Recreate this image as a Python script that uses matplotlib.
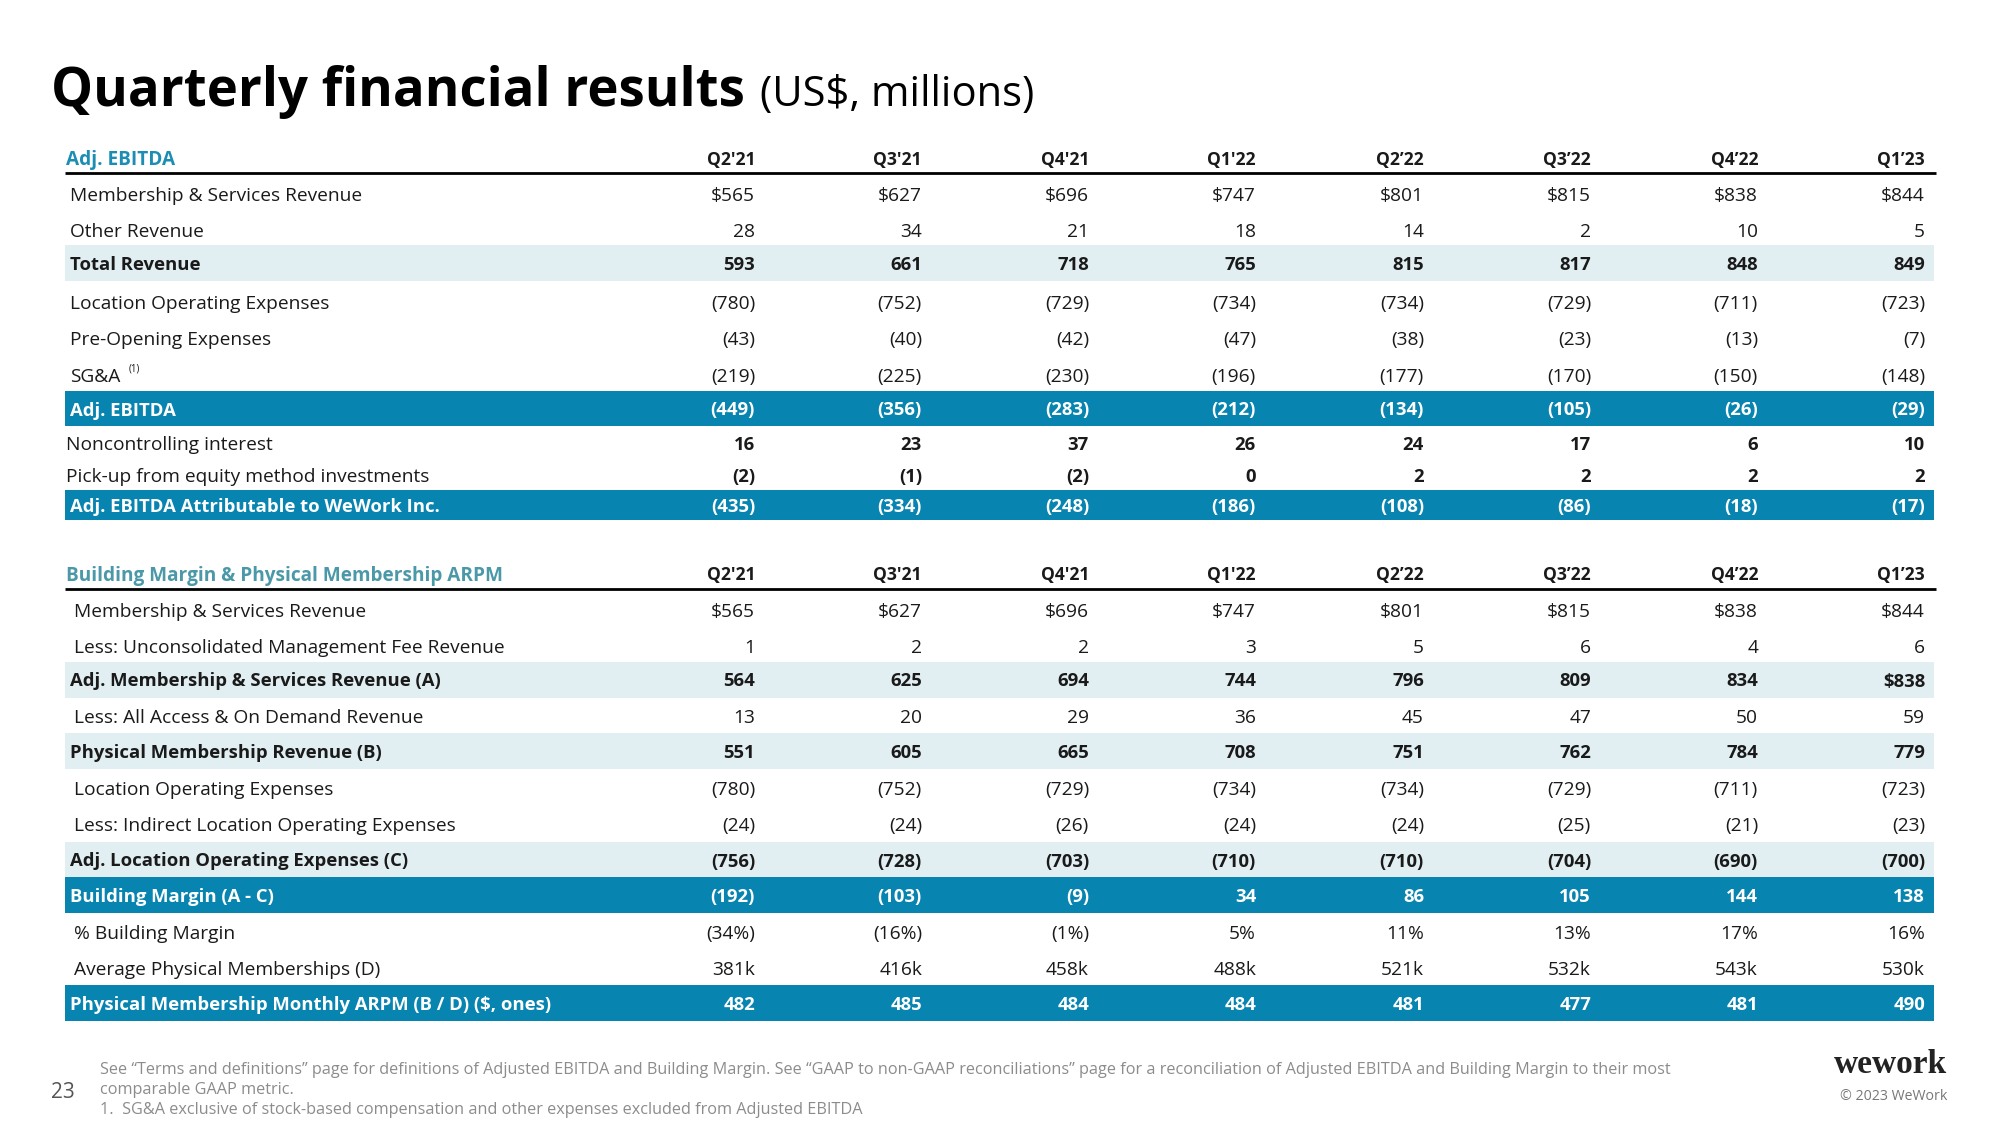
import matplotlib
matplotlib.use("Agg")
import matplotlib.pyplot as plt
from matplotlib.patches import Rectangle

plt.rcParams['font.family'] = ['Open Sans', 'DejaVu Sans']

## column headers
quarters = ["Q2'21", "Q3'21", "Q4'21", "Q1'22", "Q2\u201922", "Q3\u201922", "Q4\u201922", "Q1\u201923"]

## Adj. EBITDA table
membership_rev = ["$565", "$627", "$696", "$747", "$801", "$815", "$838", "$844"]
other_rev = ["28", "34", "21", "18", "14", "2", "10", "5"]
total_rev = ["593", "661", "718", "765", "815", "817", "848", "849"]
location_opex = ["(780)", "(752)", "(729)", "(734)", "(734)", "(729)", "(711)", "(723)"]
pre_opening = ["(43)", "(40)", "(42)", "(47)", "(38)", "(23)", "(13)", "(7)"]
sga = ["(219)", "(225)", "(230)", "(196)", "(177)", "(170)", "(150)", "(148)"]
adj_ebitda = ["(449)", "(356)", "(283)", "(212)", "(134)", "(105)", "(26)", "(29)"]
noncontrolling = ["16", "23", "37", "26", "24", "17", "6", "10"]
pickup_equity = ["(2)", "(1)", "(2)", "0", "2", "2", "2", "2"]
adj_ebitda_wework = ["(435)", "(334)", "(248)", "(186)", "(108)", "(86)", "(18)", "(17)"]

## Building margin table
unconsolidated_fee = ["1", "2", "2", "3", "5", "6", "4", "6"]
adj_membership_rev = ["564", "625", "694", "744", "796", "809", "834", "$838"]
all_access_rev = ["13", "20", "29", "36", "45", "47", "50", "59"]
physical_rev = ["551", "605", "665", "708", "751", "762", "784", "779"]
indirect_opex = ["(24)", "(24)", "(26)", "(24)", "(24)", "(25)", "(21)", "(23)"]
adj_location_opex = ["(756)", "(728)", "(703)", "(710)", "(710)", "(704)", "(690)", "(700)"]
building_margin = ["(192)", "(103)", "(9)", "34", "86", "105", "144", "138"]
building_margin_pct = ["(34%)", "(16%)", "(1%)", "5%", "11%", "13%", "17%", "16%"]
avg_memberships = ["381k", "416k", "458k", "488k", "521k", "532k", "543k", "530k"]
arpm = ["482", "485", "484", "484", "481", "477", "481", "490"]

DARK = "#0784b0"
LIGHT = "#e1eff3"
TEAL1 = "#1c8db3"
TEAL2 = "#4b98a8"
TXT = "#1a1a1a"

# style: n = normal, l = light band bold, d = dark band bold white, b = bold values only
table1 = [
    ("Membership & Services Revenue", membership_rev, "n", 194),
    ("Other Revenue", other_rev, "n", 230),
    ("Total Revenue", total_rev, "l", 263),
    ("Location Operating Expenses", location_opex, "n", 302),
    ("Pre-Opening Expenses", pre_opening, "n", 338),
    ("SG&A", sga, "n", 375),
    ("Adj. EBITDA", adj_ebitda, "d", 408.5),
    ("Noncontrolling interest", noncontrolling, "b", 443),
    ("Pick-up from equity method investments", pickup_equity, "b", 475),
    ("Adj. EBITDA Attributable to WeWork Inc.", adj_ebitda_wework, "d", 505),
]
band_h1 = [36, 36, 36, 36, 36, 36, 35, 32, 32, 30]

table2 = [
    ("Membership & Services Revenue", membership_rev, "n", 610),
    ("Less: Unconsolidated Management Fee Revenue", unconsolidated_fee, "n", 646),
    ("Adj. Membership & Services Revenue (A)", adj_membership_rev, "l", 679.5),
    ("Less: All Access & On Demand Revenue", all_access_rev, "n", 716),
    ("Physical Membership Revenue (B)", physical_rev, "l", 751),
    ("Location Operating Expenses", location_opex, "n", 788),
    ("Less: Indirect Location Operating Expenses", indirect_opex, "n", 824),
    ("Adj. Location Operating Expenses (C)", adj_location_opex, "l", 859.5),
    ("Building Margin (A - C)", building_margin, "d", 895),
    ("% Building Margin", building_margin_pct, "n", 932),
    ("Average Physical Memberships (D)", avg_memberships, "n", 968),
    ("Physical Membership Monthly ARPM (B / D) ($, ones)", arpm, "d", 1003),
]
band_h2 = 36

col_right = [755, 922, 1089, 1256, 1424, 1591, 1758, 1925]
X0, X1 = 65, 1934
FS = 13.8      # regular text
FSB = 13.3     # bold text
FSH = 13.7     # section header
FSQ = 12.6     # quarter labels

fig = plt.figure(figsize=(20, 11.25), dpi=100)
ax = fig.add_axes([0, 0, 1, 1])
ax.set_xlim(0, 2000)
ax.set_ylim(1125, 0)
ax.axis("off")


def draw_header(y, line_y, title, color):
    ax.text(66, y, title, color=color, fontsize=FSH, fontweight="bold", va="center_baseline")
    for q, xr in zip(quarters, col_right):
        ax.text(xr, y, q, color=TXT, fontsize=FSQ, fontweight="bold", ha="right", va="center_baseline")
    ax.plot([X0, X1 + 2], [line_y, line_y], color="black", lw=2, solid_capstyle="butt")


def draw_rows(rows, heights, indent_n, indent_b):
    out = {}
    for (label, vals, style, y), h in zip(rows, heights):
        color = TXT
        lw, lfs = "normal", FS
        vw, vfs = "normal", FS
        lx = indent_n
        if style in ("l", "d"):
            ax.add_patch(Rectangle((X0, y - h / 2), X1 - X0, h,
                                   color=LIGHT if style == "l" else DARK, lw=0))
            lw = vw = "bold"
            lfs = vfs = FSB
            lx = 70
            if style == "d":
                color = "white"
        elif style == "b":
            vw, vfs = "bold", FSB
            lx = indent_b
        out[label] = ax.text(lx, y, label, color=color, fontsize=lfs, fontweight=lw,
                             va="center_baseline")
        for v, xr in zip(vals, col_right):
            ax.text(xr, y, v, color=color, fontsize=vfs, fontweight=vw, ha="right",
                    va="center_baseline")
    return out


# title
t1 = ax.text(51, 106, "Quarterly financial results", fontsize=38, fontweight="bold", color="black")
fig.canvas.draw()
bb = t1.get_window_extent()
ax.text(bb.x1 + 15, 106, "(US$, millions)", fontsize=30, color="black")

draw_header(158, 172.5, "Adj. EBITDA", TEAL1)
labels1 = draw_rows(table1, band_h1, 70, 66)
fig.canvas.draw()
sb = labels1["SG&A"].get_window_extent()
ax.text(sb.x1 + 8, 369, "(1)", fontsize=7, color=TXT, va="center")

draw_header(573, 589, "Building Margin & Physical Membership ARPM", TEAL2)
draw_rows(table2, [band_h2] * len(table2), 74, 74)

# footer
GRAY = "#8c8c8c"
ax.text(51, 1090, "23", fontsize=15, color="#555555", va="center_baseline")
foot = [
    "See \u201cTerms and definitions\u201d page for definitions of Adjusted EBITDA and Building Margin. "
    "See \u201cGAAP to non-GAAP reconciliations\u201d page for a reconciliation of Adjusted EBITDA and Building Margin to their most",
    "comparable GAAP metric.",
    "1.  SG&A exclusive of stock-based compensation and other expenses excluded from Adjusted EBITDA",
]
for line, y in zip(foot, [1068, 1088, 1108]):
    ax.text(100, y, line, fontsize=11.7, color=GRAY, va="center_baseline")

ax.text(1947, 1073, "wework", fontsize=24, fontweight="bold", color="#222222",
        family="Liberation Serif", ha="right")
ax.text(1947, 1095, "\u00a9 2023 WeWork", fontsize=10.2, color="#777777", ha="right",
        va="center_baseline")

fig.savefig("out.png", dpi=100)
